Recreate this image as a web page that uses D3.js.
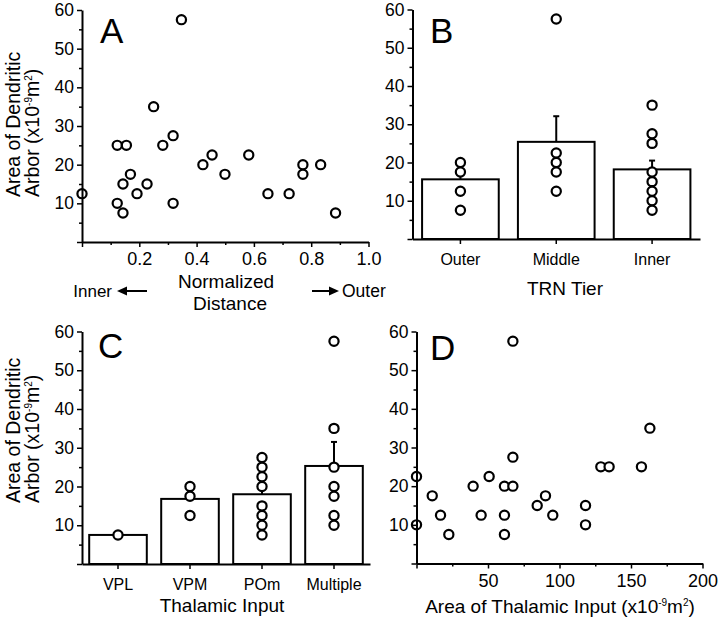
<!DOCTYPE html>
<html>
<head>
<meta charset="utf-8">
<script src="https://cdnjs.cloudflare.com/ajax/libs/d3/7.8.5/d3.min.js"></script>
<style>
	body { margin: 0; background: #fff; }
	svg { display: block; font-family: 'Liberation Sans', Arial, sans-serif; }
</style>
</head>
<body>
<div id="vis"></div>
<script>
// panel A: normalized distance vs area of dendritic arbor
var distA = [0, 0.123, 0.143, 0.123, 0.155, 0.143, 0.169, 0.192, 0.227, 0.25, 0.282, 0.318,
	0.318, 0.347, 0.422, 0.454, 0.499, 0.582, 0.649, 0.723, 0.771, 0.771, 0.833, 0.885];
var arborA = [12.5, 10, 7.5, 25, 25, 15, 17.5, 12.5, 15, 35, 25, 27.5,
	10, 57.5, 20, 22.5, 17.5, 22.5, 12.5, 12.5, 20, 17.5, 20, 7.5];

// panel B: TRN tier
var tiers = ['Outer', 'Middle', 'Inner'];
var tierMeans = [15.6, 25.4, 18.2];
var tierErrTop = [17.7, 32.1, 20.5];
var outerPts = [20, 17.5, 12.5, 7.5];
var middlePts = [57.5, 22.5, 20, 17.5, 12.5];
var innerPts = [35, 27.5, 25, 17.5, 15, 12.5, 10, 7.5];

// panel C: thalamic input
var inputs = ['VPL', 'VPM', 'POm', 'Multiple'];
var inputMeans = [7.5, 16.8, 18.0, 25.3];
var inputErrTop = [null, 18.4, 20.2, 31.5];
var vplPts = [7.5];
var vpmPts = [20, 17.5, 12.5];
var pomPts = [27.5, 25, 22.5, 20, 15, 12.5, 10, 7.5];
var multiPts = [57.5, 35, 25, 20, 17.5, 12.5, 10];

// panel D: area of thalamic input vs area of dendritic arbor
var thalD = [0, 0, 11, 16.8, 22.6, 39.6, 45.2, 50.8, 61.5, 61.5, 61.5, 67.4,
	67.4, 67.4, 84.4, 90.2, 95.3, 118.2, 118.2, 128.9, 134.7, 157.3, 163.2];
var arborD = [22.5, 10, 17.5, 12.5, 7.5, 20, 12.5, 22.5, 20, 12.5, 7.5, 27.5,
	20, 57.5, 15, 17.5, 12.5, 15, 10, 25, 25, 25, 35];

var yMajor = [0, 10, 20, 30, 40, 50, 60],
	yMinor = [5, 15, 25, 35, 45, 55];

var svg = d3.select('#vis')
	.append('svg')
	.attr('width', 720)
	.attr('height', 620);

function styleAxis(g, fontSize) {
	g.select('.domain').attr('stroke-width', 2);
	g.selectAll('.tick line').attr('stroke-width', 1.5);
	g.selectAll('.tick text')
		.attr('font-size', fontSize)
		.attr('font-family', "'Liberation Sans', Arial, sans-serif")
		.attr('fill', '#000');
	g.attr('font-family', null).attr('font-size', null);
}

function drawYAxis(y, x0) {
	var major = svg.append('g')
		.attr('transform', 'translate(' + x0 + ',0)')
		.call(d3.axisLeft(y).tickValues(yMajor).tickSize(5).tickSizeOuter(0).tickPadding(3)
			.tickFormat(function(d) { return d === 0 ? '' : d; }));
	styleAxis(major, 17.5);
	var minor = svg.append('g')
		.attr('transform', 'translate(' + x0 + ',0)')
		.call(d3.axisLeft(y).tickValues(yMinor).tickSize(3).tickFormat(''));
	minor.select('.domain').remove();
	minor.selectAll('.tick line').attr('stroke-width', 1.5);
}

function supText(t, before) {
	t.append('tspan').text(before);
	t.append('tspan').attr('font-size', 10).attr('dy', -7).text('-9');
	t.append('tspan').attr('dy', 7).text('m');
	t.append('tspan').attr('font-size', 10).attr('dy', -7).text('2');
	t.append('tspan').attr('dy', 7).text(')');
}

function drawYTitle(x1, x2, yStart) {
	svg.append('text')
		.attr('transform', 'translate(' + x1 + ',' + yStart + ') rotate(-90)')
		.attr('font-size', 19.5)
		.text('Area of Dendritic');
	var t = svg.append('text')
		.attr('transform', 'translate(' + x2 + ',' + yStart + ') rotate(-90)')
		.attr('font-size', 19.5);
	supText(t, 'Arbor (x10');
}

function drawCircles(x, y, xs, ys, shift) {
	shift = shift || 0;
	svg.append('g').selectAll('circle')
		.data(ys)
		.enter().append('circle')
		.attr('cx', function(d, i) { return x(xs[i]) + shift; })
		.attr('cy', function(d) { return y(d); })
		.attr('r', 4.6)
		.attr('fill', '#fff')
		.attr('stroke', '#000')
		.attr('stroke-width', 2.2);
}

function drawBars(x, y, cats, means, errs, pts, pad) {
	var half = x.bandwidth() / 2;
	var withErr = cats.filter(function(d, i) { return errs[i] != null; });
	var g = svg.append('g');
	g.selectAll('line.err')
		.data(withErr)
		.enter().append('line')
		.attr('class', 'err')
		.attr('x1', function(d) { return x(d) + half; })
		.attr('x2', function(d) { return x(d) + half; })
		.attr('y1', function(d) { return y(means[cats.indexOf(d)]); })
		.attr('y2', function(d) { return y(errs[cats.indexOf(d)]); })
		.attr('stroke', '#000').attr('stroke-width', 2);
	g.selectAll('line.cap')
		.data(withErr)
		.enter().append('line')
		.attr('class', 'cap')
		.attr('x1', function(d) { return x(d) + half - 3; })
		.attr('x2', function(d) { return x(d) + half + 3; })
		.attr('y1', function(d) { return y(errs[cats.indexOf(d)]); })
		.attr('y2', function(d) { return y(errs[cats.indexOf(d)]); })
		.attr('stroke', '#000').attr('stroke-width', 2);
	g.selectAll('rect')
		.data(cats)
		.enter().append('rect')
		.attr('x', function(d) { return x(d); })
		.attr('width', x.bandwidth())
		.attr('y', function(d, i) { return y(means[i]); })
		.attr('height', function(d, i) { return y(0) - y(means[i]); })
		.attr('fill', '#fff')
		.attr('stroke', '#000')
		.attr('stroke-width', 2);
	cats.forEach(function(c, i) {
		drawCircles(x, y, pts[i].map(function() { return c; }), pts[i], half);
	});
	var xAxis = svg.append('g')
		.attr('transform', 'translate(0,' + y(0) + ')')
		.call(d3.axisBottom(x).tickSize(5).tickSizeOuter(0).tickPadding(pad));
	styleAxis(xAxis, 16);
}

// ---------- panel A ----------
var xA = d3.scaleLinear().domain([0, 1]).range([82, 368.5]),
	yA = d3.scaleLinear().domain([0, 60]).range([242, 10]);

drawCircles(xA, yA, distA, arborA);
drawYAxis(yA, 82);

var xAxisA = svg.append('g')
	.attr('transform', 'translate(0,' + yA(0) + ')')
	.call(d3.axisBottom(xA).tickValues([0, 0.2, 0.4, 0.6, 0.8, 1.0]).tickSize(5).tickSizeOuter(0).tickPadding(5)
		.tickFormat(function(d) { return d === 0 ? '' : d3.format('.1f')(d); }));
styleAxis(xAxisA, 18);
var minorA = svg.append('g')
	.attr('transform', 'translate(0,' + yA(0) + ')')
	.call(d3.axisBottom(xA).tickValues([0.1, 0.3, 0.5, 0.7, 0.9]).tickSize(3).tickFormat(''));
minorA.select('.domain').remove();
minorA.selectAll('.tick line').attr('stroke-width', 1.5);

drawYTitle(19.5, 38.5, 197);

svg.append('text').attr('x', 226).attr('y', 288).attr('text-anchor', 'middle')
	.attr('font-size', 19).text('Normalized');
svg.append('text').attr('x', 230).attr('y', 310).attr('text-anchor', 'middle')
	.attr('font-size', 19).text('Distance');
svg.append('text').attr('x', 112).attr('y', 297).attr('text-anchor', 'end')
	.attr('font-size', 17).text('Inner');
svg.append('text').attr('x', 342).attr('y', 297)
	.attr('font-size', 17.5).text('Outer');

svg.append('line').attr('x1', 147).attr('x2', 124).attr('y1', 291).attr('y2', 291)
	.attr('stroke', '#000').attr('stroke-width', 2);
svg.append('path').attr('d', 'M117,291 L127,286.5 L127,295.5 Z').attr('fill', '#000');
svg.append('line').attr('x1', 312).attr('x2', 332).attr('y1', 291).attr('y2', 291)
	.attr('stroke', '#000').attr('stroke-width', 2);
svg.append('path').attr('d', 'M339,291 L329,286.5 L329,295.5 Z').attr('fill', '#000');

svg.append('text').attr('x', 100).attr('y', 43).attr('font-size', 35).text('A');

// ---------- panel B ----------
var xB = d3.scaleBand().domain(tiers).range([412.5, 700]).paddingInner(0.2).paddingOuter(0.1),
	yB = d3.scaleLinear().domain([0, 60]).range([239, 9.5]);

drawBars(xB, yB, tiers, tierMeans, tierErrTop, [outerPts, middlePts, innerPts], 9.5);
drawYAxis(yB, 412.5);

svg.append('text').attr('x', 565).attr('y', 295).attr('text-anchor', 'middle')
	.attr('font-size', 19).text('TRN Tier');
svg.append('text').attr('x', 430).attr('y', 43).attr('font-size', 35).text('B');

// ---------- panel C ----------
var xC = d3.scaleBand().domain(inputs).range([82, 370]).paddingInner(0.2).paddingOuter(0.1),
	yC = d3.scaleLinear().domain([0, 60]).range([564, 331.5]);

drawBars(xC, yC, inputs, inputMeans, inputErrTop, [vplPts, vpmPts, pomPts, multiPts], 9.5);
drawYAxis(yC, 82);
drawYTitle(19.5, 38.5, 503);

svg.append('text').attr('x', 222).attr('y', 612).attr('text-anchor', 'middle')
	.attr('font-size', 19).text('Thalamic Input');
svg.append('text').attr('x', 98).attr('y', 358).attr('font-size', 35).text('C');

// ---------- panel D ----------
var xD = d3.scaleLinear().domain([0, 200]).range([416.5, 702.5]),
	yD = d3.scaleLinear().domain([0, 60]).range([563.5, 331.5]);

drawCircles(xD, yD, thalD, arborD);
drawYAxis(yD, 416.5);

var xAxisD = svg.append('g')
	.attr('transform', 'translate(0,' + yD(0) + ')')
	.call(d3.axisBottom(xD).tickValues([0, 50, 100, 150, 200]).tickSize(5).tickSizeOuter(0).tickPadding(6)
		.tickFormat(function(d) { return d === 0 ? '' : d; }));
styleAxis(xAxisD, 18);
var minorD = svg.append('g')
	.attr('transform', 'translate(0,' + yD(0) + ')')
	.call(d3.axisBottom(xD).tickValues([25, 75, 125, 175]).tickSize(3).tickFormat(''));
minorD.select('.domain').remove();
minorD.selectAll('.tick line').attr('stroke-width', 1.5);

var tD = svg.append('text').attr('x', 560).attr('y', 613).attr('text-anchor', 'middle')
	.attr('font-size', 19);
supText(tD, 'Area of Thalamic Input (x10');

svg.append('text').attr('x', 430).attr('y', 360).attr('font-size', 35).text('D');
</script>
</body>
</html>
